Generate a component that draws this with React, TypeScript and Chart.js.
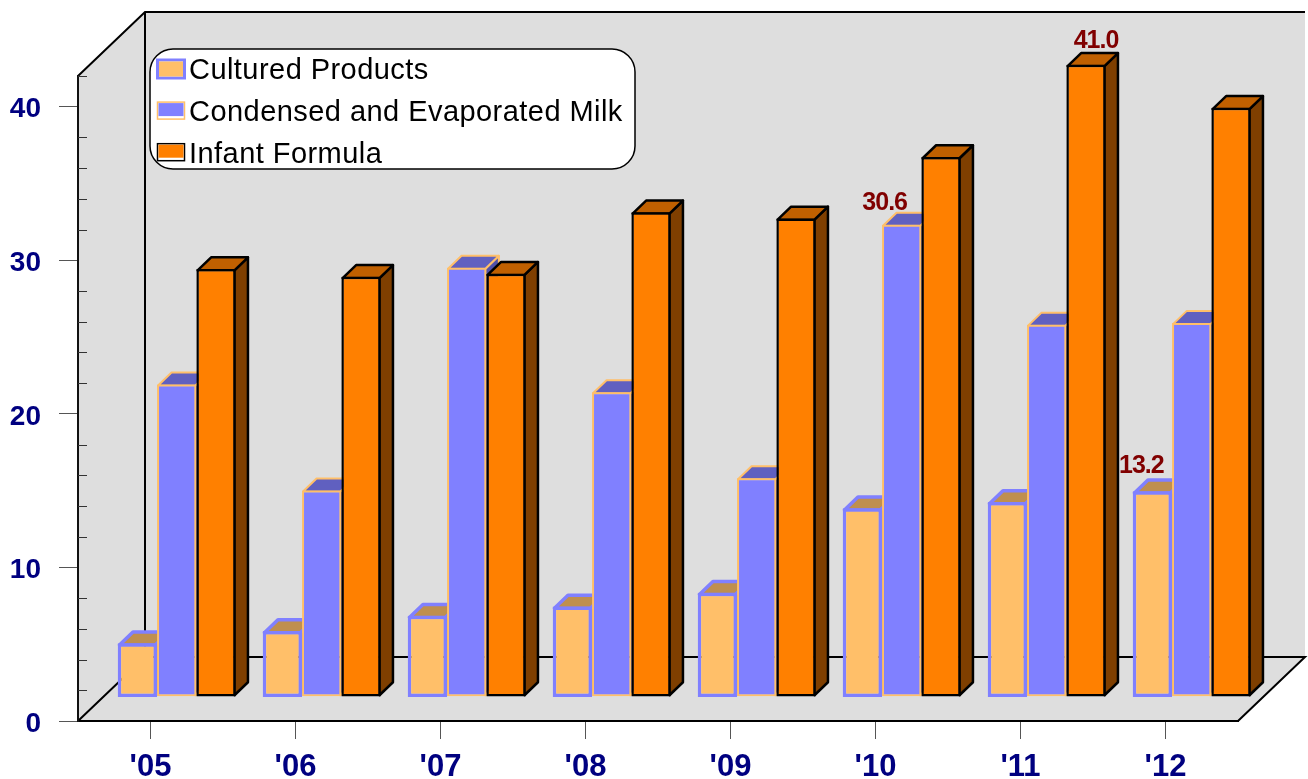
import React, { useEffect, useRef } from "react";
import { Chart, registerables } from "chart.js";

Chart.register(...registerables);

const years = ["'05", "'06", "'07", "'08", "'09", "'10", "'11", "'12"];
const cultured = [3.3, 4.1, 5.1, 5.7, 6.6, 12.1, 12.5, 13.2];
const condensed = [20.2, 13.3, 27.8, 19.7, 14.1, 30.6, 24.1, 24.2];
const infant = [27.7, 27.2, 27.4, 31.4, 31.0, 35.0, 41.0, 38.2];

const seriesNames = ["Cultured Products", "Condensed and Evaporated Milk", "Infant Formula"];
const fills = ["#FFBF69", "#8080FF", "#FF8000"];
const edges = ["#8080FF", "#FFBF69", "#000000"];
const edgeWidths = [3.5, 2, 2.5];
const topFaces = ["#BF8F4F", "#6060C0", "#C06000"];
const sideFaces = ["#806035", "#5050A8", "#7F3F00"];

// [series index, category index, label x offset, label y offset] for value labels
const valueLabels = [
  [0, 7, -11, -18],
  [1, 5, -17, -15],
  [2, 6, 10, -17],
];

const FONT = '"Liberation Sans", Arial, sans-serif';
const WALL_X = 67;
const WALL_Y = 64;
const BAR_SHIFT_X = 26.2;
const BAR_SHIFT_Y = 25.25;
const FACE_X = 13.5;
const FACE_Y = 13;

const poly = (ctx: CanvasRenderingContext2D, pts: number[][]) => {
  ctx.beginPath();
  pts.forEach(([x, y], i) => (i ? ctx.lineTo(x, y) : ctx.moveTo(x, y)));
  ctx.closePath();
};

const threeD = {
  id: "threeD",
  afterDatasetsUpdate(chart: any) {
    chart.data.datasets.forEach((_: any, i: number) => {
      const grow = edgeWidths[i] / 2;
      chart.getDatasetMeta(i).data.forEach((el: any) => {
        el.x += BAR_SHIFT_X;
        el.y -= BAR_SHIFT_Y + grow;
        el.base += grow - BAR_SHIFT_Y;
      });
    });
  },
  beforeDraw(chart: any) {
    const { ctx, chartArea: a } = chart;
    ctx.save();
    ctx.fillStyle = "#DEDEDE";
    ctx.strokeStyle = "#000000";
    ctx.lineWidth = 2;
    ctx.lineJoin = "miter";
    // back wall + left wall + floor
    poly(ctx, [
      [a.left, a.bottom],
      [a.left, a.top],
      [a.left + WALL_X, a.top - WALL_Y],
      [a.right + WALL_X, a.top - WALL_Y],
      [a.right + WALL_X, a.bottom - WALL_Y],
      [a.right, a.bottom],
    ]);
    ctx.fill();
    ctx.beginPath();
    ctx.moveTo(a.left, a.top);
    ctx.lineTo(a.left + WALL_X, a.top - WALL_Y);
    ctx.lineTo(a.right + WALL_X, a.top - WALL_Y);
    ctx.moveTo(a.left + WALL_X, a.top - WALL_Y);
    ctx.lineTo(a.left + WALL_X, a.bottom - WALL_Y);
    ctx.lineTo(a.right + WALL_X, a.bottom - WALL_Y);
    ctx.lineTo(a.right, a.bottom);
    ctx.moveTo(a.left + WALL_X, a.bottom - WALL_Y);
    ctx.lineTo(a.left, a.bottom);
    ctx.stroke();

    // legend box
    const lx = 150, ly = 49, lw = 485, lh = 120;
    ctx.beginPath();
    ctx.roundRect(lx, ly, lw, lh, 23);
    ctx.fillStyle = "#FFFFFF";
    ctx.fill();
    ctx.lineWidth = 1.5;
    ctx.stroke();
    ctx.font = `29px ${FONT}`;
    (ctx as any).letterSpacing = "0.45px";
    ctx.textBaseline = "alphabetic";
    ctx.textAlign = "left";
    chart.data.datasets.forEach((d: any, i: number) => {
      const y = 60 + i * 41.6;
      const thick = i === 0;
      ctx.lineWidth = thick ? 3 : 1.5;
      ctx.strokeStyle = d.borderColor;
      ctx.strokeRect(157.5, y + (thick ? 0 : 0.5), 27, thick ? 18 : 17);
      ctx.fillStyle = d.backgroundColor;
      if (thick) ctx.fillRect(159, y + 1.5, 24, 15);
      else ctx.fillRect(158.5, y + 1.5, 25, 13);
      ctx.fillStyle = "#000000";
      ctx.fillText(d.label, 189, 79 + i * 42);
    });
    ctx.restore();
  },
  beforeDatasetsDraw(chart: any) {
    const { ctx } = chart;
    // minor ticks, drawn inward from the value axis
    const yScale = chart.scales.y;
    ctx.save();
    ctx.strokeStyle = "#333333";
    ctx.lineWidth = 1;
    yScale.ticks.forEach((t: any) => {
      if (t.value % 10 !== 0) {
        const py = Math.round(yScale.getPixelForValue(t.value)) + 0.5;
        ctx.beginPath();
        ctx.moveTo(yScale.right, py);
        ctx.lineTo(yScale.right + 9, py);
        ctx.stroke();
      }
    });
    ctx.restore();

    chart.data.datasets.forEach((d: any, i: number) => {
      const meta = chart.getDatasetMeta(i);
      ctx.save();
      ctx.lineWidth = edgeWidths[i];
      ctx.strokeStyle = d.borderColor;
      ctx.lineJoin = "round";
      meta.data.forEach((el: any) => {
        const half = el.width / 2;
        const l = el.x - half + edgeWidths[i] / 2;
        const r = el.x + half - edgeWidths[i] / 2;
        const t = el.y + edgeWidths[i] / 2;
        const b = el.base - edgeWidths[i] / 2;
        poly(ctx, [[r, t], [r + FACE_X, t - FACE_Y], [r + FACE_X, b - FACE_Y], [r, b]]);
        ctx.fillStyle = sideFaces[i];
        ctx.fill();
        ctx.stroke();
        poly(ctx, [[l, t], [l + FACE_X, t - FACE_Y], [r + FACE_X, t - FACE_Y], [r, t]]);
        ctx.fillStyle = topFaces[i];
        ctx.fill();
        ctx.stroke();
      });
      ctx.restore();
      meta.controller.draw();
    });

    ctx.save();
    ctx.font = `bold 25px ${FONT}`;
    (ctx as any).letterSpacing = "-1px";
    ctx.fillStyle = "#800000";
    ctx.textAlign = "center";
    ctx.textBaseline = "alphabetic";
    valueLabels.forEach(([s, c, ox, oy]) => {
      const el = chart.getDatasetMeta(s).data[c];
      const v = chart.data.datasets[s].data[c];
      ctx.fillText(v.toFixed(1), el.x + ox, el.y + oy);
    });
    ctx.restore();
    return false;
  },
};

export default function App() {
  const ref = useRef<HTMLCanvasElement>(null);
  useEffect(() => {
    const seriesValues = [cultured, condensed, infant];
    const chart = new Chart(ref.current as HTMLCanvasElement, {
      type: "bar",
      data: {
        labels: years,
        datasets: seriesValues.map((data, i) => ({
          label: seriesNames[i],
          data,
          backgroundColor: fills[i],
          borderColor: edges[i],
          borderWidth: edgeWidths[i],
          borderSkipped: false,
          categoryPercentage: 118 / 145,
          barPercentage: 1,
        })),
      },
      options: {
        responsive: false,
        animation: false,
        layout: { padding: { top: 76, right: 70, left: 0, bottom: 0 } },
        plugins: { legend: { display: false }, tooltip: { enabled: false }, title: { display: false } },
        scales: {
          x: {
            afterFit: (s: any) => { s.height = 58; },
            grid: {
              offset: false,
              drawOnChartArea: false,
              drawTicks: true,
              tickLength: 18,
              tickColor: "#555555",
              tickWidth: 1,
            },
            border: { color: "#000000", width: 2 },
            ticks: {
              autoSkip: false,
              maxRotation: 0,
              padding: 10,
              color: "#000080",
              font: { family: FONT, size: 31, weight: "bold" },
            },
          },
          y: {
            min: 0,
            max: 42,
            afterFit: (s: any) => { s.width = 78; },
            grid: {
              drawOnChartArea: false,
              drawTicks: true,
              tickLength: 19,
              tickColor: (c: any) => (c.tick && c.tick.value % 10 === 0 ? "#555555" : "rgba(0,0,0,0)"),
              tickWidth: 1,
            },
            border: { color: "#111111", width: 2 },
            ticks: {
              stepSize: 2,
              autoSkip: false,
              padding: 18,
              labelOffset: 3,
              color: "#000080",
              font: { family: FONT, size: 28, weight: "bold" },
              callback: (v: any) => (v % 10 === 0 ? String(v) : ""),
            },
          },
        },
      },
      plugins: [threeD],
    } as any);
    return () => chart.destroy();
  }, []);
  return (
    <div style={{ position: "absolute", left: 0, top: 0, width: 1308, height: 779, background: "#fff" }}>
      <canvas ref={ref} width={1308} height={779} style={{ display: "block" }} />
    </div>
  );
}
